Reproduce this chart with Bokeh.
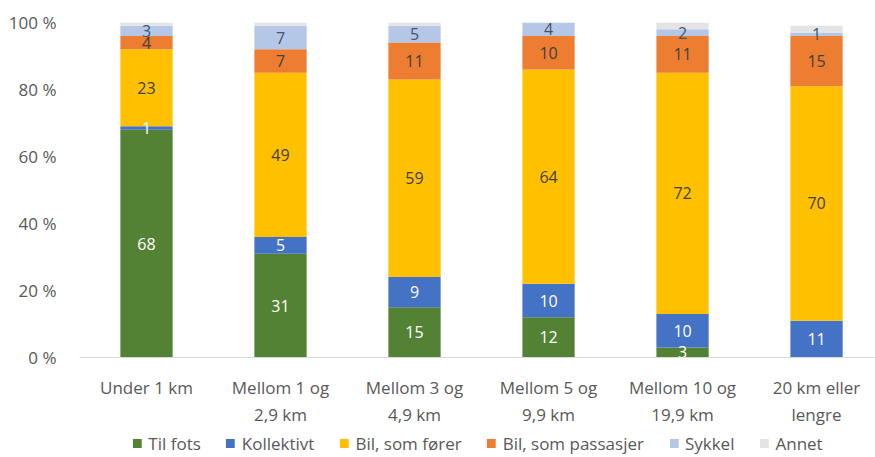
import numpy as np
from bokeh.plotting import figure
from bokeh.layouts import column
from bokeh.models import (ColumnDataSource, Range1d, FixedTicker, Legend, LegendItem,
                          LabelSet)
from bokeh.core.properties import value
from bokeh.embed import file_html
from bokeh.resources import INLINE

# Reisemiddel etter reiselengde, andel i prosent
categories = ["Under 1 km", "Mellom 1 og\n2,9 km", "Mellom 3 og\n4,9 km",
              "Mellom 5 og\n9,9 km", "Mellom 10 og\n19,9 km", "20 km eller\nlengre"]
series = ["Til fots", "Kollektivt", "Bil, som fører", "Bil, som passasjer", "Sykkel", "Annet"]

til_fots = [68, 31, 15, 12, 3, 0]
kollektivt = [1, 5, 9, 10, 10, 11]
bil_forer = [23, 49, 59, 64, 72, 70]
bil_passasjer = [4, 7, 11, 10, 11, 15]
sykkel = [3, 7, 5, 4, 2, 1]
annet = [1, 1, 1, 0, 2, 2]

y_ticks = [0, 20, 40, 60, 80, 100]
y_tick_labels = ["0 %", "20 %", "40 %", "60 %", "80 %", "100 %"]

colors = ["#548235", "#4472C4", "#FFC000", "#ED7D31", "#B4C7E7", "#E4E4E4"]
label_colors = ["#FFFFFF", "#FFFFFF", "#404040", "#404040", "#44546A", None]

FONT = "Open Sans"
TEXT_GREY = "#595959"

values = [til_fots, kollektivt, bil_forer, bil_passasjer, sykkel, annet]
x = np.arange(len(categories))

# main chart: stacked bars with value labels
p = figure(width=875, height=429, output_backend="svg", toolbar_location=None,
           x_range=Range1d(-0.5, 5.44), y_range=Range1d(0, 100),
           min_border_left=79, min_border_right=0, min_border_top=22,
           min_border_bottom=0)
p.outline_line_color = None
p.background_fill_color = "white"
p.border_fill_color = "white"
p.xgrid.grid_line_color = None
p.ygrid.grid_line_color = None

# separate strip underneath that carries the legend
leg = figure(width=875, height=28, output_backend="svg", toolbar_location=None,
             x_range=Range1d(100, 101), y_range=Range1d(100, 101),
             min_border=0)
leg.axis.visible = False
leg.grid.visible = False
leg.outline_line_color = None

bottom = np.zeros(len(categories))
items = []
for name, vals, col, lcol in zip(series, values, colors, label_colors):
    vals = np.array(vals, dtype=float)
    top = bottom + vals
    src = ColumnDataSource(dict(x=x, bottom=bottom, top=top,
                                mid=(bottom + top) / 2,
                                txt=[str(int(v)) if v > 0 else "" for v in vals]))
    p.vbar(x="x", bottom="bottom", top="top", width=0.39, source=src,
           fill_color=col, line_color=None)
    if lcol is not None:
        p.add_layout(LabelSet(x="x", y="mid", text="txt", source=src,
                              text_align="center", text_baseline="middle",
                              text_font=value(FONT), text_font_size="16px",
                              text_color=lcol))
    # hidden copy of the series, used only for its legend swatch
    swatch = leg.vbar(x="x", bottom="bottom", top="top", width=0.39, source=src,
                      fill_color=col, line_color=None, visible=False)
    items.append(LegendItem(label=name, renderers=[swatch]))
    bottom = top

p.yaxis.ticker = FixedTicker(ticks=y_ticks)
p.yaxis.major_label_overrides = dict(zip(y_ticks, y_tick_labels))
p.yaxis.axis_line_color = None
p.yaxis.major_tick_line_color = None
p.yaxis.minor_tick_line_color = None
p.yaxis.major_label_standoff = 17
p.yaxis.major_label_text_font = FONT
p.yaxis.major_label_text_font_size = "17px"
p.yaxis.major_label_text_color = TEXT_GREY

p.xaxis.ticker = FixedTicker(ticks=list(x))
p.xaxis.major_label_overrides = {int(i): c for i, c in zip(x, categories)}
p.xaxis.axis_line_color = "#D9D9D9"
p.xaxis.major_tick_line_color = None
p.xaxis.minor_tick_line_color = None
p.xaxis.major_label_standoff = 12
p.xaxis.major_label_text_font = FONT
p.xaxis.major_label_text_font_size = "17px"
p.xaxis.major_label_text_line_height = 1.2
p.xaxis.major_label_text_color = TEXT_GREY

legend = Legend(items=items, orientation="horizontal", location="center",
                glyph_width=11, glyph_height=11, label_standoff=6, spacing=24,
                label_text_font=FONT, label_text_font_size="17px",
                label_text_color=TEXT_GREY, border_line_color=None,
                background_fill_alpha=0, padding=0, margin=0)
leg.add_layout(legend, "center")

layout = column(p, leg, spacing=0)
open("out.html", "w").write(file_html(layout, INLINE))
